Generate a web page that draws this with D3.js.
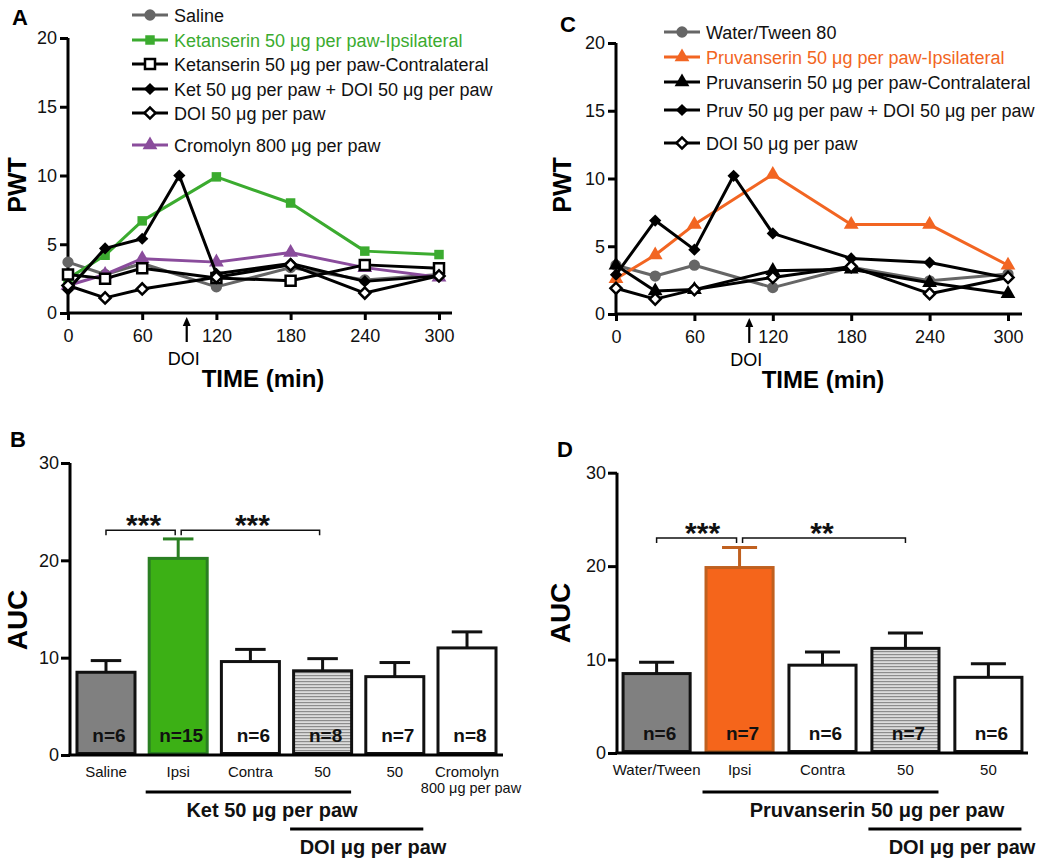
<!DOCTYPE html>
<html><head><meta charset="utf-8">
<script src="https://cdn.jsdelivr.net/npm/d3@7"></script>
<style>
body{margin:0;background:#fff;}
svg text{font-family:"Liberation Sans",Arial,Helvetica,sans-serif;}
</style></head><body>
<svg id="chart" width="1063" height="861"></svg>
<script>
// ---------- DATA: panel A ----------
const timesA = [0, 30, 60, 120, 180, 240, 300];
const timesA90 = [0, 30, 60, 90, 120, 180, 240, 300];
const salineA = [3.7, 2.8, 3.6, 1.9, 3.3, 2.4, 2.8];
const ketIpsiA = [2.5, 4.2, 6.7, 9.9, 8.0, 4.5, 4.25];
const ketContraA = [2.8, 2.5, 3.25, 2.55, 2.35, 3.5, 3.25];
const ketDoiA = [1.7, 4.7, 5.4, 10.0, 2.85, 3.6, 2.3, 2.7];
const doiA = [2.0, 1.1, 1.75, 2.6, 3.5, 1.45, 2.7];
const cromolynA = [2.0, 2.8, 3.95, 3.7, 4.4, 3.3, 2.6];
const legendA = ["Saline", "Ketanserin 50 \u03bcg per paw-Ipsilateral", "Ketanserin 50 \u03bcg per paw-Contralateral",
  "Ket 50 \u03bcg per paw + DOI 50 \u03bcg per paw", "DOI 50 \u03bcg per paw", "Cromolyn 800 \u03bcg per paw"];

// ---------- DATA: panel C ----------
const timesC = [0, 30, 60, 120, 180, 240, 300];
const timesC90 = [0, 30, 60, 90, 120, 180, 240, 300];
const waterC = [3.6, 2.8, 3.6, 1.95, 3.45, 2.45, 2.95];
const pruvIpsiC = [2.6, 4.35, 6.6, 10.3, 6.6, 6.6, 3.6];
const pruvContraC = [3.6, 1.7, 1.8, 3.2, 3.3, 2.3, 1.5];
const pruvDoiC = [2.9, 6.9, 4.75, 10.2, 5.95, 4.1, 3.8, 2.65];
const doiC = [1.9, 1.1, 1.8, 2.7, 3.5, 1.5, 2.7];
const legendC = ["Water/Tween 80", "Pruvanserin 50 \u03bcg per paw-Ipsilateral", "Pruvanserin 50 \u03bcg per paw-Contralateral",
  "Pruv 50 \u03bcg per paw + DOI 50 \u03bcg per paw", "DOI 50 \u03bcg per paw"];

const timeTicks = [0, 60, 120, 180, 240, 300];
const pwtTicks = [0, 5, 10, 15, 20];

// ---------- DATA: panel B ----------
const catsB = ["Saline", "Ipsi", "Contra", "50", "50 ", "Cromolyn"];
const aucB = [8.5, 20.2, 9.6, 8.65, 8.05, 11.0];
const errB = [1.2, 2.0, 1.25, 1.25, 1.45, 1.65];
const nB = ["n=6", "n=15", "n=6", "n=8", "n=7", "n=8"];

// ---------- DATA: panel D ----------
const catsD = ["Water/Tween", "Ipsi", "Contra", "50", "50 "];
const aucD = [8.5, 19.85, 9.4, 11.2, 8.1];
const errD = [1.2, 2.15, 1.4, 1.65, 1.45];
const nD = ["n=6", "n=7", "n=6", "n=7", "n=6"];
const aucTicks = [0, 10, 20, 30];

const svg = d3.select("#chart");
const defs = svg.append("defs");
const pat = defs.append("pattern").attr("id", "hatch").attr("patternUnits", "userSpaceOnUse")
  .attr("width", 6).attr("height", 3);
pat.append("rect").attr("width", 6).attr("height", 3).attr("fill", "#dcdcdc");
pat.append("rect").attr("width", 6).attr("height", 1.2).attr("fill", "#8c8c8c");

const GREEN = "#3bab2f", PURPLE = "#8a4c9c", GRAY = "#666666", ORANGE = "#f26522";

function drawMarker(g, x, y, m) {
  return g.append("path").attr("d", d3.symbol().type(m.type).size(m.size)())
    .attr("transform", `translate(${x},${y})` + (m.rot ? " rotate(45)" : ""))
    .attr("fill", m.fill).attr("stroke", m.stroke).attr("stroke-width", m.sw || 0);
}

function styleAxis(g) {
  g.selectAll(".domain").attr("stroke", "#000").attr("stroke-width", 3);
  g.selectAll(".tick line").attr("stroke", "#000").attr("stroke-width", 3);
  g.selectAll(".tick text").attr("font-size", 18).attr("fill", "#111")
    .attr("font-family", "Liberation Sans, Arial, sans-serif");
}

function lineChart(cfg) {
  const x = d3.scaleLinear().domain([0, 300]).range([cfg.x0, cfg.x1]);
  const y = d3.scaleLinear().domain([0, 20]).range([cfg.y0, cfg.y1]);
  const g = svg.append("g");
  const ay = g.append("g").attr("transform", `translate(${cfg.x0},0)`)
    .call(d3.axisLeft(y).tickValues(pwtTicks).tickSize(8).tickPadding(3).tickSizeOuter(0));
  styleAxis(ay);
  ay.select(".domain").attr("d", `M0,${cfg.y0}V${cfg.y1}`);
  const ax = g.append("g").attr("transform", `translate(0,${cfg.y0})`)
    .call(d3.axisBottom(x).tickValues(timeTicks).tickSize(7).tickPadding(9).tickSizeOuter(0));
  styleAxis(ax);
  ax.select(".domain").attr("d", `M${cfg.x0},0H${cfg.xEnd}`);
  const line = d3.line().x(d => x(d[0])).y(d => y(d[1]));
  cfg.series.forEach(s => {
    const pts = s.t.map((t, i) => [t, s.v[i]]);
    g.append("path").attr("d", line(pts)).attr("fill", "none")
      .attr("stroke", s.color).attr("stroke-width", 3).attr("stroke-linejoin", "round");
    pts.forEach(p => drawMarker(g, x(p[0]), y(p[1]), s.m));
  });
  const ax0 = x(cfg.arrowT);
  g.append("line").attr("x1", ax0).attr("x2", ax0).attr("y1", cfg.y0 + 10).attr("y2", cfg.y0 + 29)
    .attr("stroke", "#000").attr("stroke-width", 2.2);
  g.append("path").attr("d", `M${ax0},${cfg.y0 + 4}l-4,9h8z`).attr("fill", "#000");
  g.append("text").attr("x", ax0 - 3).attr("y", cfg.y0 + 52).attr("text-anchor", "middle")
    .attr("font-size", 18).text("DOI");
  g.append("text").attr("x", cfg.titleX).attr("y", cfg.y0 + 74).attr("text-anchor", "middle")
    .attr("font-size", 24).attr("font-weight", "bold").text("TIME (min)");
  g.append("text").attr("transform", `translate(${cfg.ylabX},185) rotate(-90)`).attr("text-anchor", "middle")
    .attr("font-size", 25).attr("font-weight", "bold").text("PWT");
  g.append("text").attr("x", cfg.letter[1]).attr("y", cfg.letter[2]).attr("font-size", 22)
    .attr("font-weight", "bold").text(cfg.letter[0]);
  cfg.legend.forEach((txt, i) => {
    const s = cfg.series[cfg.legendOrder[i]];
    const ry = cfg.legRows[i];
    g.append("line").attr("x1", cfg.legX).attr("x2", cfg.legX + 36).attr("y1", ry).attr("y2", ry)
      .attr("stroke", s.color).attr("stroke-width", 3);
    drawMarker(g, cfg.legX + 18, ry, s.m);
    g.append("text").attr("x", cfg.legX + 42).attr("y", ry + 6.5).attr("font-size", 18)
      .attr("fill", s.textColor || "#111").text(txt);
  });
}

const mCircle = c => ({type: d3.symbolCircle, size: 100, fill: c, stroke: c, sw: 0});
const mSqFill = c => ({type: d3.symbolSquare, size: 90, fill: c, stroke: c, sw: 0});
const mSqOpen = {type: d3.symbolSquare, size: 100, fill: "#fff", stroke: "#000", sw: 2.5};
const mDiaFill = {type: d3.symbolSquare, size: 75, fill: "#000", stroke: "#000", sw: 0, rot: true};
const mDiaOpen = {type: d3.symbolSquare, size: 62, fill: "#fff", stroke: "#000", sw: 2.5, rot: true};
const mTri = c => ({type: d3.symbolTriangle, size: 95, fill: c, stroke: c, sw: 0});

lineChart({
  x0: 68, x1: 439, xEnd: 452, y0: 313, y1: 38, arrowT: 96, titleX: 263, ylabX: 26,
  letter: ["A", 12, 25],
  series: [
    {t: timesA, v: salineA, color: GRAY, m: mCircle(GRAY)},
    {t: timesA, v: ketIpsiA, color: GREEN, m: mSqFill(GREEN), textColor: GREEN},
    {t: timesA, v: cromolynA, color: PURPLE, m: mTri(PURPLE)},
    {t: timesA, v: ketContraA, color: "#000", m: mSqOpen},
    {t: timesA90, v: ketDoiA, color: "#000", m: mDiaFill},
    {t: timesA, v: doiA, color: "#000", m: mDiaOpen}
  ],
  legend: legendA, legendOrder: [0, 1, 3, 4, 5, 2],
  legX: 132, legRows: [15, 40, 64, 89, 113, 145]
});

lineChart({
  x0: 616, x1: 1008, xEnd: 1022, y0: 314, y1: 43, arrowT: 102, titleX: 823, ylabX: 571,
  letter: ["C", 560, 32],
  series: [
    {t: timesC, v: waterC, color: GRAY, m: mCircle(GRAY)},
    {t: timesC, v: pruvIpsiC, color: ORANGE, m: mTri(ORANGE), textColor: ORANGE},
    {t: timesC, v: pruvContraC, color: "#000", m: mTri("#000")},
    {t: timesC90, v: pruvDoiC, color: "#000", m: mDiaFill},
    {t: timesC, v: doiC, color: "#000", m: mDiaOpen}
  ],
  legend: legendC, legendOrder: [0, 1, 2, 3, 4],
  legX: 664, legRows: [32, 57, 82, 110, 143]
});

function barChart(cfg) {
  const x = d3.scaleBand().domain(cfg.cats).range([cfg.x0, cfg.x1]).paddingInner(0.155).paddingOuter(cfg.po);
  const y = d3.scaleLinear().domain([0, 30]).range([cfg.y0, cfg.y1]);
  const g = svg.append("g");
  const bw = x.bandwidth();
  cfg.cats.forEach((c, i) => {
    const st = cfg.styles[i];
    const bx = x(c), top = y(cfg.vals[i]);
    const ey = y(cfg.vals[i] + cfg.errs[i]);
    g.append("line").attr("x1", bx + bw / 2).attr("x2", bx + bw / 2).attr("y1", top).attr("y2", ey)
      .attr("stroke", st.stroke).attr("stroke-width", 3);
    g.append("line").attr("x1", bx + bw / 2 - bw * 0.25).attr("x2", bx + bw / 2 + bw * 0.25).attr("y1", ey).attr("y2", ey)
      .attr("stroke", st.stroke).attr("stroke-width", 3);
    g.append("rect").attr("x", bx + 1.5).attr("y", top).attr("width", bw - 3).attr("height", y(0) - top - 1.5)
      .attr("fill", st.fill).attr("stroke", st.stroke).attr("stroke-width", 3);
    g.append("text").attr("x", bx + bw / 2 + 3).attr("y", cfg.y0 - 13).attr("text-anchor", "middle")
      .attr("font-size", 19).attr("font-weight", "bold").attr("fill", "#111").text(cfg.ns[i]);
    g.append("text").attr("x", bx + bw / 2).attr("y", cfg.y0 + 22).attr("text-anchor", "middle")
      .attr("font-size", 15).attr("fill", "#111").text(cfg.labels[i]);
  });
  if (cfg.sub) {
    const bx = x(cfg.cats[cfg.sub[0]]);
    g.append("text").attr("x", bx + bw / 2 + 4).attr("y", cfg.y0 + 38).attr("text-anchor", "middle")
      .attr("font-size", 14.5).attr("fill", "#111").text(cfg.sub[1]);
  }
  const ay = g.append("g").attr("transform", `translate(${cfg.x0},0)`)
    .call(d3.axisLeft(y).tickValues(aucTicks).tickSize(9).tickPadding(2).tickSizeOuter(0));
  styleAxis(ay);
  ay.select(".domain").attr("d", `M0,${cfg.y0}V${cfg.y1}`);
  g.append("line").attr("x1", cfg.x0 - 1.5).attr("x2", cfg.x1).attr("y1", cfg.y0).attr("y2", cfg.y0)
    .attr("stroke", "#000").attr("stroke-width", 3);
  cfg.brackets.forEach(b => {
    const xa = x(cfg.cats[b.a]) + bw / 2 + (b.da || 0);
    const xb = x(cfg.cats[b.b]) + bw / 2 + (b.db || 0);
    const by = y(b.v);
    g.append("path").attr("d", `M${xa},${by + 5}V${by}H${xb}V${by + 5}`).attr("fill", "none")
      .attr("stroke", "#111").attr("stroke-width", 1.5);
    g.append("text").attr("x", (xa + xb) / 2 + (b.dx || 0)).attr("y", by + 5).attr("text-anchor", "middle")
      .attr("font-size", 30).attr("font-weight", "bold").attr("fill", "#111").text(b.s);
  });
  cfg.groups.forEach(gr => {
    const xa = x(cfg.cats[gr.a]) - 2, xb = x(cfg.cats[gr.b]) + bw - 2;
    g.append("line").attr("x1", xa).attr("x2", xb).attr("y1", gr.y).attr("y2", gr.y)
      .attr("stroke", "#000").attr("stroke-width", 3);
    g.append("text").attr("x", gr.tx).attr("y", gr.y + 25).attr("text-anchor", "middle")
      .attr("font-size", 20).attr("font-weight", "bold").attr("fill", "#111").text(gr.label);
  });
  g.append("text").attr("transform", `translate(${cfg.ylabX},${cfg.ylabY}) rotate(-90)`).attr("text-anchor", "middle")
    .attr("font-size", 28).attr("font-weight", "bold").text("AUC");
  g.append("text").attr("x", cfg.letter[1]).attr("y", cfg.letter[2]).attr("font-size", 22)
    .attr("font-weight", "bold").text(cfg.letter[0]);
}

const sGray = {fill: "#808080", stroke: "#111"};
const sWhite = {fill: "#fff", stroke: "#111"};
const sHatch = {fill: "url(#hatch)", stroke: "#111"};

barChart({
  cats: catsB, vals: aucB, errs: errB, ns: nB, po: 0.076,
  labels: ["Saline", "Ipsi", "Contra", "50", "50", "Cromolyn"], sub: [5, "800 \u03bcg per paw"],
  x0: 70, x1: 503, y0: 755, y1: 463,
  styles: [sGray, {fill: "#3cb015", stroke: "#2a7f22"}, sWhite, sHatch, sWhite, sWhite],
  brackets: [{a: 0, b: 1, db: -3, v: 23.1, s: "***", dx: 3}, {a: 1, b: 3, da: 3, db: -3, v: 23.1, s: "***", dx: 2}],
  groups: [{a: 1, b: 3, y: 792, tx: 272, label: "Ket 50 \u03bcg per paw"}, {a: 3, b: 4, y: 829, tx: 373, label: "DOI \u03bcg per paw"}],
  ylabX: 27, ylabY: 620, letter: ["B", 10, 447]
});

barChart({
  cats: catsD, vals: aucD, errs: errD, ns: nD, po: 0.055,
  labels: ["Water/Tween", "Ipsi", "Contra", "50", "50"],
  x0: 617, x1: 1028, y0: 753, y1: 472.7,
  styles: [sGray, {fill: "#f5651b", stroke: "#c0601f"}, sWhite, sHatch, sWhite],
  brackets: [{a: 0, b: 1, db: -3, v: 23.0, s: "***", dx: 6}, {a: 1, b: 3, da: 3, v: 23.0, s: "**", dx: -2}],
  groups: [{a: 1, b: 3, y: 792, tx: 877, label: "Pruvanserin 50 \u03bcg per paw"}, {a: 3, b: 4, y: 829, tx: 962, label: "DOI \u03bcg per paw"}],
  ylabX: 570, ylabY: 613, letter: ["D", 557, 457]
});
</script>
</body></html>
